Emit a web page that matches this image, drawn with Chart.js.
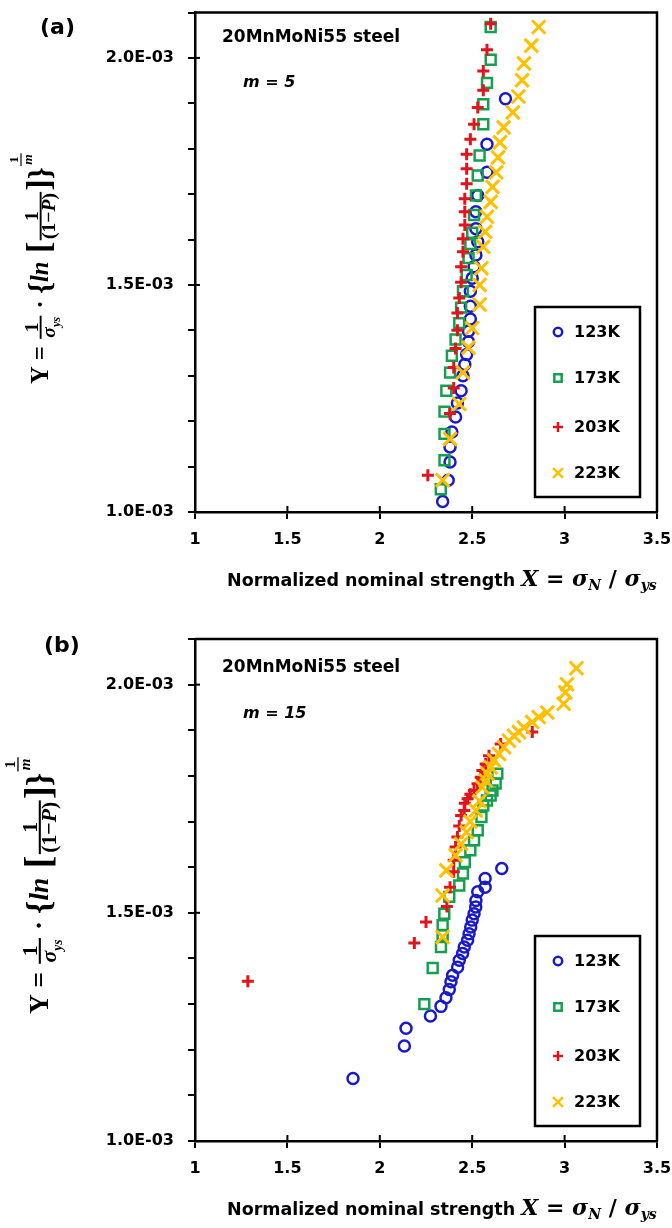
<!DOCTYPE html>
<html><head><meta charset="utf-8">
<script src="https://cdn.jsdelivr.net/npm/chart.js@4.4.1/dist/chart.umd.min.js"></script>
<style>
html,body{margin:0;padding:0;background:#fff;}
#wrap{position:relative;width:672px;height:1228px;background:#fff;}
canvas{position:absolute;left:0;}
</style></head>
<body><div id="wrap">
<canvas id="ca" width="672" height="614" style="top:0"></canvas>
<canvas id="cb" width="672" height="614" style="top:614px"></canvas>
</div>
<script>
// ---------- shared labels ----------
const xTickLabels = ['1', '1.5', '2', '2.5', '3', '3.5'];
const yTickLabels = ['1.0E-03', '1.5E-03', '2.0E-03'];
const seriesNames = ['123K', '173K', '203K', '223K'];
const seriesColors = ['#1a1ac8', '#14a04e', '#e0141c', '#ffc000'];
const pointStyles = ['circle', 'rect', 'cross', 'crossRot'];
const material = '20MnMoNi55 steel';

// ---------- panel (a), m = 5  (Y in units of 1E-03) ----------
const a123X = [2.34, 2.37, 2.38, 2.38, 2.39, 2.41, 2.42, 2.44, 2.45, 2.46, 2.47, 2.48, 2.48, 2.49, 2.49, 2.49, 2.50, 2.51, 2.52, 2.53, 2.52, 2.52, 2.53, 2.58, 2.58, 2.68];
const a123Y = [1.023, 1.070, 1.110, 1.143, 1.176, 1.209, 1.240, 1.267, 1.300, 1.325, 1.347, 1.375, 1.398, 1.425, 1.453, 1.486, 1.515, 1.540, 1.566, 1.595, 1.624, 1.661, 1.697, 1.748, 1.810, 1.910];
const a173X = [2.33, 2.35, 2.35, 2.35, 2.36, 2.38, 2.39, 2.41, 2.43, 2.44, 2.45, 2.47, 2.48, 2.49, 2.50, 2.51, 2.52, 2.53, 2.54, 2.56, 2.56, 2.58, 2.60, 2.60];
const a173Y = [1.050, 1.114, 1.172, 1.221, 1.267, 1.307, 1.344, 1.380, 1.416, 1.450, 1.486, 1.522, 1.559, 1.590, 1.615, 1.654, 1.697, 1.741, 1.785, 1.854, 1.898, 1.945, 1.996, 2.068];
const a203X = [2.26, 2.38, 2.40, 2.40, 2.41, 2.42, 2.42, 2.43, 2.44, 2.44, 2.45, 2.45, 2.46, 2.46, 2.46, 2.47, 2.47, 2.47, 2.49, 2.51, 2.53, 2.56, 2.56, 2.58, 2.60];
const a203Y = [1.081, 1.217, 1.273, 1.318, 1.360, 1.400, 1.438, 1.471, 1.506, 1.540, 1.573, 1.602, 1.632, 1.661, 1.690, 1.723, 1.756, 1.788, 1.821, 1.854, 1.891, 1.929, 1.971, 2.018, 2.075];
const a223X = [2.34, 2.38, 2.43, 2.45, 2.48, 2.50, 2.54, 2.54, 2.55, 2.56, 2.57, 2.58, 2.60, 2.61, 2.63, 2.64, 2.65, 2.67, 2.72, 2.75, 2.77, 2.78, 2.82, 2.86];
const a223Y = [1.070, 1.161, 1.238, 1.307, 1.362, 1.405, 1.457, 1.500, 1.537, 1.584, 1.617, 1.650, 1.683, 1.716, 1.748, 1.781, 1.814, 1.847, 1.880, 1.915, 1.951, 1.988, 2.027, 2.068];

// ---------- panel (b), m = 15 ----------
const b123X = [1.855, 2.133, 2.142, 2.274, 2.331, 2.358, 2.376, 2.385, 2.394, 2.421, 2.43, 2.448, 2.457, 2.475, 2.483, 2.492, 2.50, 2.51, 2.519, 2.52, 2.53, 2.57, 2.57, 2.66];
const b123Y = [1.137, 1.208, 1.247, 1.274, 1.295, 1.314, 1.332, 1.349, 1.363, 1.381, 1.396, 1.411, 1.425, 1.440, 1.454, 1.469, 1.484, 1.498, 1.513, 1.527, 1.546, 1.556, 1.575, 1.597];
const b173X = [2.241, 2.286, 2.331, 2.34, 2.34, 2.349, 2.376, 2.43, 2.45, 2.46, 2.49, 2.51, 2.53, 2.55, 2.56, 2.58, 2.60, 2.61, 2.627, 2.636];
const b173Y = [1.300, 1.379, 1.425, 1.451, 1.473, 1.498, 1.535, 1.560, 1.586, 1.611, 1.637, 1.659, 1.681, 1.710, 1.735, 1.746, 1.757, 1.768, 1.783, 1.805];
const b203X = [1.286, 2.187, 2.25, 2.363, 2.38, 2.40, 2.40, 2.41, 2.42, 2.43, 2.44, 2.457, 2.46, 2.475, 2.49, 2.51, 2.529, 2.546, 2.555, 2.573, 2.591, 2.654, 2.825];
const b203Y = [1.350, 1.434, 1.480, 1.514, 1.556, 1.590, 1.615, 1.644, 1.666, 1.690, 1.713, 1.724, 1.740, 1.750, 1.760, 1.768, 1.783, 1.797, 1.812, 1.826, 1.844, 1.870, 1.896];
const b223X = [2.34, 2.34, 2.36, 2.41, 2.44, 2.47, 2.49, 2.52, 2.54, 2.555, 2.573, 2.582, 2.60, 2.618, 2.645, 2.672, 2.699, 2.726, 2.753, 2.78, 2.825, 2.86, 2.906, 2.995, 3.004, 3.013, 3.064];
const b223Y = [1.447, 1.538, 1.593, 1.626, 1.651, 1.677, 1.700, 1.724, 1.745, 1.775, 1.790, 1.805, 1.819, 1.834, 1.848, 1.863, 1.877, 1.888, 1.896, 1.906, 1.918, 1.929, 1.939, 1.958, 1.983, 2.001, 2.036];

// ---------- styling ----------
const SANS = '"DejaVu Sans"';
const SERIF = '"Liberation Serif"';
const MSERIF = '"DejaVu Serif"';
const ptRadius = [5.5, 7, 6, 9.5];
const ptBorder = [2.5, 2.5, 3, 3];
const drawOrder = [3, 2, 1, 0];

function yLabel(ctx, ox, oy, targetLen) {
  const F = 21;
  const B = s => `bold ${s}px ${SERIF}`;
  const BI = s => `italic bold ${s}px ${SERIF}`;
  const mw = (f, t) => { ctx.font = f; return ctx.measureText(t).width; };
  const runW = run => run.reduce((a, r) => a + mw(r.f, r.t), 0);
  const seq = [
    {run: [{t: 'Y', f: B(F)}, {t: ' = ', f: B(F)}]},
    {frac: true, barY: -0.3 * F, sz: 0.8 * F,
     num: [{t: '1', f: B(0.8 * F)}],
     den: [{t: 'σ', f: BI(0.8 * F)}, {t: 'ys', f: BI(0.5 * F), dy: 0.2 * F}]},
    {run: [{t: ' · ', f: B(F)}]},
    {run: [{t: '{', f: B(1.25 * F), dy: 0.08 * F}, {t: 'ln', f: BI(F)}, {t: ' [', f: B(1.4 * F), dy: 0.1 * F}]},
    {frac: true, barY: -0.3 * F, sz: 0.8 * F,
     num: [{t: '1', f: B(0.8 * F)}],
     den: [{t: '(1−', f: B(0.8 * F)}, {t: 'P', f: BI(0.8 * F)}, {t: ')', f: B(0.8 * F)}]},
    {run: [{t: ']', f: B(1.4 * F), dy: 0.1 * F}, {t: '}', f: B(1.25 * F), dy: 0.08 * F}]},
    {frac: true, barY: -1.1 * F, sz: 0.55 * F, small: true,
     num: [{t: '1', f: B(0.55 * F)}],
     den: [{t: 'm', f: BI(0.55 * F)}]}
  ];
  let W = 0;
  seq.forEach(s => {
    if (s.frac) { s.w = Math.max(runW(s.num), runW(s.den)) + 4; }
    else s.w = runW(s.run);
    W += s.w;
  });
  const sc = targetLen / W;
  ctx.save();
  ctx.translate(ox, oy);
  ctx.rotate(-Math.PI / 2);
  ctx.scale(sc, sc);
  ctx.fillStyle = '#000'; ctx.strokeStyle = '#000';
  ctx.textBaseline = 'alphabetic'; ctx.textAlign = 'left';
  let c = 0;
  const drawRun = (run, x, y) => {
    run.forEach(r => { ctx.font = r.f; ctx.fillText(r.t, x, y + (r.dy || 0)); x += ctx.measureText(r.t).width; });
  };
  seq.forEach(s => {
    if (s.frac) {
      const nw = runW(s.num), dw = runW(s.den);
      ctx.lineWidth = s.small ? 1 : 1.6;
      ctx.beginPath(); ctx.moveTo(c + 1, s.barY); ctx.lineTo(c + s.w - 1, s.barY); ctx.stroke();
      drawRun(s.num, c + (s.w - nw) / 2, s.barY - 2.5);
      drawRun(s.den, c + (s.w - dw) / 2, s.barY + 2.5 + 0.6 * s.sz);
    } else {
      drawRun(s.run, c, 0);
    }
    c += s.w;
  });
  ctx.restore();
}

function xTitle(ctx, x, y) {
  const parts = [
    {t: 'Normalized nominal strength ', f: `bold 17.5px ${SANS}`},
    {t: 'X', f: `italic bold 22px ${MSERIF}`},
    {t: ' = ', f: `bold 22px ${MSERIF}`},
    {t: 'σ', f: `italic bold 22px ${MSERIF}`},
    {t: 'N', f: `italic bold 14px ${MSERIF}`, dy: 4},
    {t: ' / ', f: `bold 22px ${MSERIF}`},
    {t: 'σ', f: `italic bold 22px ${MSERIF}`},
    {t: 'ys', f: `italic bold 14px ${MSERIF}`, dy: 4}
  ];
  ctx.save();
  ctx.fillStyle = '#000'; ctx.textAlign = 'left'; ctx.textBaseline = 'alphabetic';
  parts.forEach(p => { ctx.font = p.f; ctx.fillText(p.t, x, y + (p.dy || 0)); x += ctx.measureText(p.t).width; });
  ctx.restore();
}

function buildPanel(id, P) {
  const xs = P.xs, ys = P.ys;
  const datasets = seriesNames.map((name, i) => ({
    label: name,
    data: xs[i].map((x, j) => ({x: x, y: ys[i][j]})),
    showLine: false,
    pointStyle: pointStyles[i],
    pointRadius: ptRadius[i],
    pointBorderWidth: ptBorder[i],
    pointBorderColor: seriesColors[i],
    pointBackgroundColor: 'rgba(0,0,0,0)',
    borderColor: seriesColors[i],
    backgroundColor: 'rgba(0,0,0,0)',
    order: drawOrder[i]
  }));

  const extras = {
    id: 'extras',
    afterDraw(chart) {
      const ctx = chart.ctx, a = chart.chartArea;
      const xs_ = chart.scales.x, ys_ = chart.scales.y;
      ctx.save();
      ctx.strokeStyle = '#000'; ctx.lineWidth = 2.5;
      ctx.beginPath(); ctx.moveTo(a.left, a.top); ctx.lineTo(a.right, a.top); ctx.lineTo(a.right, a.bottom); ctx.stroke();
      ctx.lineWidth = 2;
      xs_.ticks.forEach(t => { const px = xs_.getPixelForValue(t.value); ctx.beginPath(); ctx.moveTo(px, a.bottom); ctx.lineTo(px, a.bottom - 6); ctx.stroke(); });
      ys_.ticks.forEach(t => { const k = Math.round(t.value * 10); if (k % 5 === 0) { const py = ys_.getPixelForValue(t.value); ctx.beginPath(); ctx.moveTo(a.left, py); ctx.lineTo(a.left + 5, py); ctx.stroke(); } });
      ctx.fillStyle = '#000'; ctx.textAlign = 'left'; ctx.textBaseline = 'alphabetic';
      ctx.font = `bold 22px ${SANS}`; ctx.fillText(P.tag, P.tagX, P.tagY);
      ctx.font = `bold 17px ${SANS}`; ctx.fillText(material, 222, P.matY);
      ctx.font = `italic bold 16px ${SANS}`; ctx.fillText(P.mText, 243, P.mY);
      const L = P.leg;
      ctx.lineWidth = 2.5; ctx.strokeStyle = '#000';
      ctx.strokeRect(L.x, L.y, L.w, L.h);
      const rows = [25, 71, 120, 166];
      const lr = [4.2, 5.2, 5, 7];
      seriesNames.forEach((n, i) => {
        const cy = L.y + rows[i] * L.h / 190;
        ctx.fillStyle = 'rgba(0,0,0,0)';
        ctx.strokeStyle = seriesColors[i];
        Chart.helpers.drawPoint(ctx, {pointStyle: pointStyles[i], rotation: 0, radius: lr[i], borderWidth: ptBorder[i]}, L.x + 23, cy);
        ctx.fillStyle = '#000';
        ctx.font = `bold 16px ${SANS}`; ctx.textBaseline = 'middle';
        ctx.fillText(n, L.x + 39, cy + 1);
      });
      ctx.textBaseline = 'alphabetic';
      ctx.restore();
      xTitle(ctx, 227, P.titleY);
      yLabel(ctx, 48, P.ylStart, P.ylLen);
    }
  };

  return new Chart(document.getElementById(id), {
    type: 'scatter',
    data: {datasets: datasets},
    options: {
      responsive: false,
      animation: false,
      events: [],
      layout: {padding: {top: P.top, right: 15, left: 0, bottom: 0}},
      plugins: {legend: {display: false}, tooltip: {enabled: false}},
      scales: {
        x: {
          type: 'linear', min: 1, max: 3.5,
          afterFit: s => { s.height = P.xh; s.paddingLeft = 0; s.paddingRight = 0; },
          ticks: {stepSize: 0.5, color: '#000', padding: 11, maxRotation: 0,
                  font: {family: SANS, weight: 'bold', size: 16},
                  callback: v => xTickLabels[Math.round((v - 1) * 2)]},
          grid: {display: true, drawOnChartArea: false, drawTicks: true, tickLength: 7, color: '#000', lineWidth: 2},
          border: {display: true, color: '#000', width: 2.5}
        },
        y: {
          type: 'linear', min: 1.0, max: 2.1,
          afterFit: s => { s.width = 195; s.paddingTop = 0; s.paddingBottom = 0; },
          ticks: {stepSize: 0.1, maxTicksLimit: 40, autoSkip: false, color: '#000', padding: 14,
                  font: {family: SANS, weight: 'bold', size: 16},
                  callback: v => { const k = Math.round(v * 10); return k % 5 === 0 ? yTickLabels[(k - 10) / 5] : ''; }},
          grid: {display: true, drawOnChartArea: false, drawTicks: true, tickLength: 7, color: '#000', lineWidth: 2},
          border: {display: true, color: '#000', width: 2.5}
        }
      }
    },
    plugins: [extras]
  });
}

buildPanel('ca', {
  xs: [a123X, a173X, a203X, a223X], ys: [a123Y, a173Y, a203Y, a223Y],
  top: 7, xh: 102, tag: '(a)', tagX: 40, tagY: 34, matY: 42, mText: 'm = 5', mY: 87,
  leg: {x: 535, y: 307, w: 105, h: 190}, titleY: 586, ylStart: 384, ylLen: 232
});
buildPanel('cb', {
  xs: [b123X, b173X, b203X, b223X], ys: [b123Y, b173Y, b203Y, b223Y],
  top: 25, xh: 87, tag: '(b)', tagX: 44, tagY: 38, matY: 58, mText: 'm = 15', mY: 104,
  leg: {x: 535, y: 322, w: 105, h: 190}, titleY: 601, ylStart: 400, ylLen: 258
});
</script>
</body></html>
